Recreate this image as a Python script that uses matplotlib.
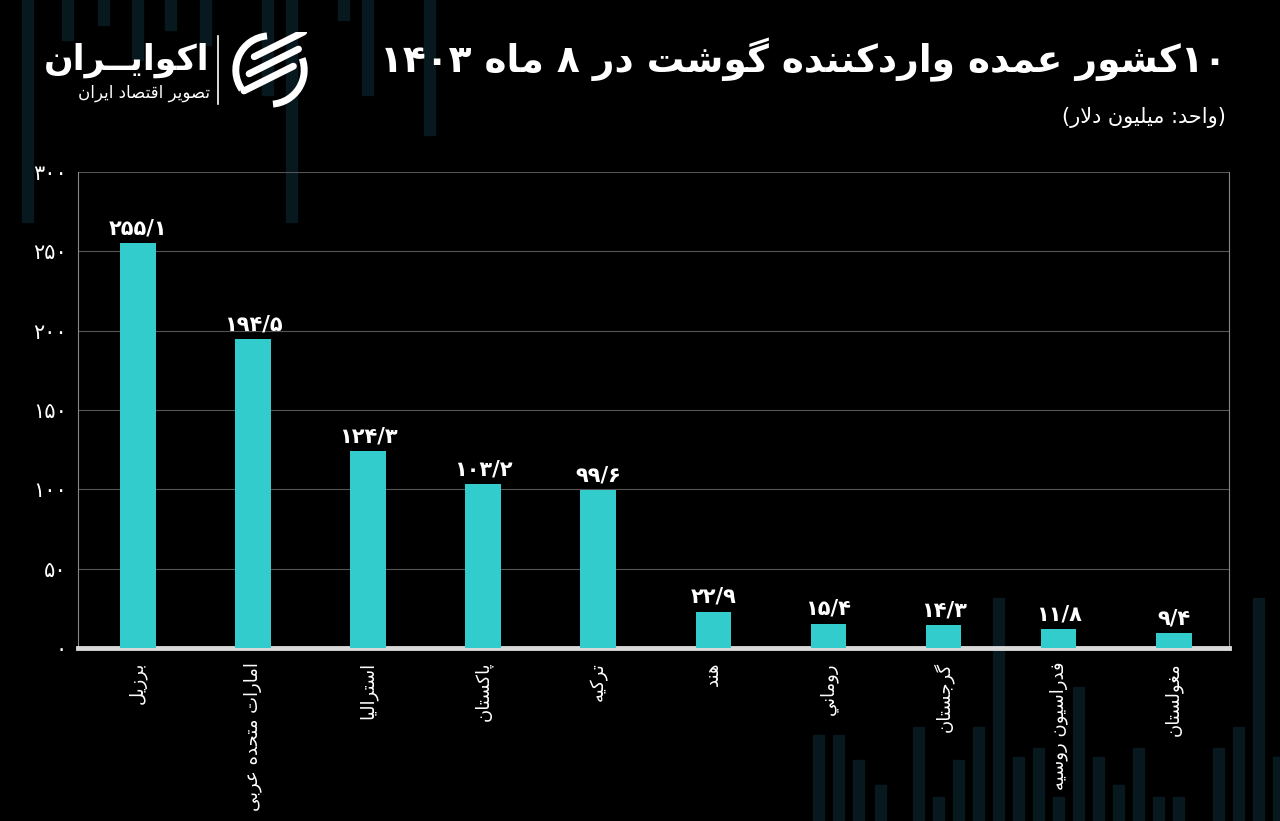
import re
import matplotlib
matplotlib.use("Agg")
import matplotlib.pyplot as plt
from matplotlib.patches import Rectangle, Arc
from matplotlib.lines import Line2D

# data
countries = ["برزیل", "امارات متحده عربی", "استرالیا", "پاکستان", "ترکیه",
             "هند", "روماني", "گرجستان", "فدراسیون روسیه", "مغولستان"]
imports = [255.1, 194.5, 124.3, 103.2, 99.6, 22.9, 15.4, 14.3, 11.8, 9.4]
y_ticks = [0, 50, 100, 150, 200, 250, 300]

title = "۱۰کشور عمده واردکننده گوشت در ۸ ماه ۱۴۰۳"
subtitle = "(واحد: میلیون دلار)"
brand = "اکوایــران"
brand_sub = "تصویر اقتصاد ایران"

# (isolated, final, initial, medial) presentation forms
FORMS = {
    'آ': (0xFE81, 0xFE82, None, None),
    'ا': (0xFE8D, 0xFE8E, None, None),
    'ب': (0xFE8F, 0xFE90, 0xFE91, 0xFE92),
    'پ': (0xFB56, 0xFB57, 0xFB58, 0xFB59),
    'ت': (0xFE95, 0xFE96, 0xFE97, 0xFE98),
    'ث': (0xFE99, 0xFE9A, 0xFE9B, 0xFE9C),
    'ج': (0xFE9D, 0xFE9E, 0xFE9F, 0xFEA0),
    'چ': (0xFB7A, 0xFB7B, 0xFB7C, 0xFB7D),
    'ح': (0xFEA1, 0xFEA2, 0xFEA3, 0xFEA4),
    'خ': (0xFEA5, 0xFEA6, 0xFEA7, 0xFEA8),
    'د': (0xFEA9, 0xFEAA, None, None),
    'ذ': (0xFEAB, 0xFEAC, None, None),
    'ر': (0xFEAD, 0xFEAE, None, None),
    'ز': (0xFEAF, 0xFEB0, None, None),
    'ژ': (0xFB8A, 0xFB8B, None, None),
    'س': (0xFEB1, 0xFEB2, 0xFEB3, 0xFEB4),
    'ش': (0xFEB5, 0xFEB6, 0xFEB7, 0xFEB8),
    'ص': (0xFEB9, 0xFEBA, 0xFEBB, 0xFEBC),
    'ض': (0xFEBD, 0xFEBE, 0xFEBF, 0xFEC0),
    'ط': (0xFEC1, 0xFEC2, 0xFEC3, 0xFEC4),
    'ظ': (0xFEC5, 0xFEC6, 0xFEC7, 0xFEC8),
    'ع': (0xFEC9, 0xFECA, 0xFECB, 0xFECC),
    'غ': (0xFECD, 0xFECE, 0xFECF, 0xFED0),
    'ف': (0xFED1, 0xFED2, 0xFED3, 0xFED4),
    'ق': (0xFED5, 0xFED6, 0xFED7, 0xFED8),
    'ک': (0xFB8E, 0xFB8F, 0xFB90, 0xFB91),
    'گ': (0xFB92, 0xFB93, 0xFB94, 0xFB95),
    'ل': (0xFEDD, 0xFEDE, 0xFEDF, 0xFEE0),
    'م': (0xFEE1, 0xFEE2, 0xFEE3, 0xFEE4),
    'ن': (0xFEE5, 0xFEE6, 0xFEE7, 0xFEE8),
    'ه': (0xFEE9, 0xFEEA, 0xFEEB, 0xFEEC),
    'و': (0xFEED, 0xFEEE, None, None),
    'ی': (0xFBFC, 0xFBFD, 0xFBFE, 0xFBFF),
    'ي': (0xFEF1, 0xFEF2, 0xFEF3, 0xFEF4),
    'ـ': (0x0640, 0x0640, 0x0640, 0x0640),
}


def joins_next(ch):
    f = FORMS.get(ch)
    return f is not None and f[2] is not None


def shape(s):
    out = []
    i = 0
    while i < len(s):
        ch = s[i]
        f = FORMS.get(ch)
        if f is None:
            out.append(ch)
            i += 1
            continue
        prev_j = i > 0 and joins_next(s[i - 1])
        if ch == 'ل' and i + 1 < len(s) and s[i + 1] in 'اآ':
            lig = {'ا': (0xFEFB, 0xFEFC), 'آ': (0xFEF5, 0xFEF6)}[s[i + 1]]
            out.append(chr(lig[1] if prev_j else lig[0]))
            i += 2
            continue
        next_j = f[2] is not None and i + 1 < len(s) and s[i + 1] in FORMS
        if prev_j and next_j:
            code = f[3]
        elif prev_j:
            code = f[1]
        elif next_j:
            code = f[2]
        else:
            code = f[0]
        out.append(chr(code))
        i += 1
    return ''.join(out)


def rtl(s):
    runs = re.findall(r'[0-9۰-۹٫/.]+|.', shape(s))
    mirror = {'(': ')', ')': '('}
    return ''.join(mirror.get(r, r) for r in reversed(runs))


def fa(v):
    return str(v).replace('.', '/').translate(str.maketrans('0123456789', '۰۱۲۳۴۵۶۷۸۹'))


W, H = 1280, 821
plt.rcParams['font.family'] = ['DejaVu Sans']
fig = plt.figure(figsize=(W / 100, H / 100), dpi=100, facecolor='black')

# faint background stripes
deco = [(22, 0, 222), (62, 0, 40), (98, 0, 25), (132, 0, 60), (165, 0, 30),
        (200, 0, 45), (262, 0, 95), (286, 0, 222), (338, 0, 20), (362, 0, 95),
        (424, 0, 135),
        (813, 735, 821), (833, 735, 821), (853, 760, 821), (875, 785, 821),
        (913, 727, 821), (933, 797, 821), (953, 760, 821), (973, 727, 821),
        (993, 598, 821), (1013, 757, 821), (1033, 748, 821), (1053, 797, 821),
        (1073, 687, 821), (1093, 757, 821), (1113, 785, 821), (1133, 748, 821),
        (1153, 797, 821), (1173, 797, 821), (1213, 748, 821), (1233, 727, 821),
        (1253, 598, 821), (1273, 757, 821)]
for dx, y0, y1 in deco:
    fig.add_artist(Rectangle((dx / W, 1 - y1 / H), 11 / W, (y1 - y0) / H,
                             transform=fig.transFigure, color='#07181e', zorder=0))

ax = fig.add_axes([78 / W, 1 - 648 / H, (1229 - 78) / W, (648 - 172) / H])
ax.set_facecolor('none')
x = list(range(len(countries)))
ax.bar(x, imports, width=0.31, color='#33CCCC', zorder=3)
for xi, v in zip(x, imports):
    ax.text(xi, v + 3, fa(v), ha='center', va='bottom', color='white',
            fontsize=15, fontweight='bold')

ax.set_xlim(-0.52, 9.48)
ax.set_ylim(0, 300)
ax.set_yticks(y_ticks, [fa(v) for v in y_ticks])
ax.set_xticks(x, [rtl(c) for c in countries], rotation=90, va='top')
ax.tick_params(axis='y', colors='white', labelsize=15, length=0, pad=8)
ax.tick_params(axis='x', colors='white', labelsize=13, length=0, pad=10)
ax.yaxis.grid(True, color='#555555', lw=0.8)
ax.set_axisbelow(True)
for side in ('left', 'right'):
    ax.spines[side].set_color('#888888')
    ax.spines[side].set_linewidth(0.8)
ax.spines['top'].set_visible(False)
ax.spines['bottom'].set_color('#d9d9d9')
ax.spines['bottom'].set_linewidth(3.5)

# titles
fig.text(1226 / W, 1 - 60 / H, rtl(title), ha='right', va='center',
         color='white', fontsize=27, fontweight='bold')
fig.text(1226 / W, 1 - 117 / H, rtl(subtitle), ha='right', va='center',
         color='white', fontsize=15)

# logo
fig.text(210 / W, 1 - 60 / H, rtl(brand), ha='right', va='center',
         color='white', fontsize=25, fontweight='bold')
fig.text(210 / W, 1 - 93 / H, rtl(brand_sub), ha='right', va='center',
         color='white', fontsize=12)
fig.add_artist(Line2D([218 / W, 218 / W], [1 - 36 / H, 1 - 104 / H],
                      transform=fig.transFigure, color='white', lw=1.2))
iax = fig.add_axes([232 / W, 1 - 108 / H, 76 / W, 76 / H])
iax.set_xlim(-1, 1)
iax.set_ylim(-1, 1)
iax.set_aspect('equal')
iax.axis('off')
iax.add_patch(Arc((0, 0), 1.8, 1.8, theta1=95, theta2=215, color='white', lw=5))
iax.add_patch(Arc((0, 0), 1.8, 1.8, theta1=275, theta2=20, color='white', lw=5))
for off in (-0.45, 0.0, 0.45):
    iax.plot([-0.55 + off * 0.3, 0.75 + off * 0.3], [-0.1 + off, 0.55 + off],
             color='white', lw=5, solid_capstyle='round')

fig.savefig('out.png', dpi=100, facecolor='black')
